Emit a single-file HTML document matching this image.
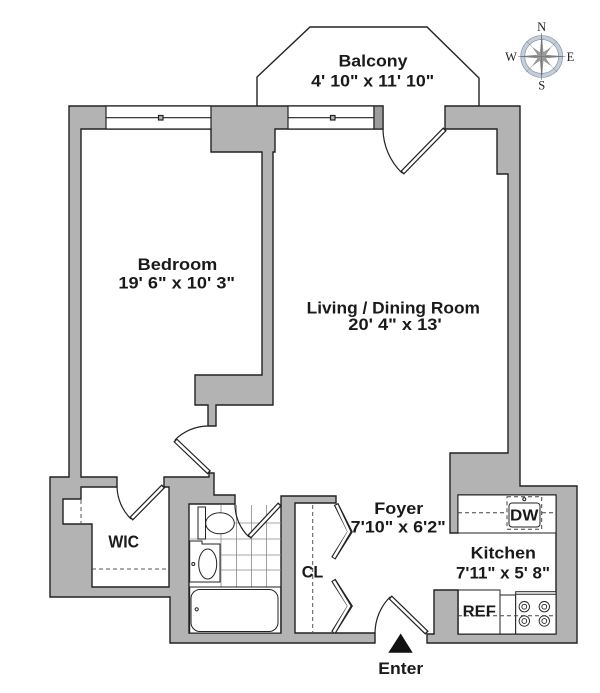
<!DOCTYPE html>
<html><head><meta charset="utf-8"><style>
html,body{margin:0;padding:0;background:#fff;}
svg{display:block;}
text{font-family:"Liberation Sans",Arial,sans-serif;font-weight:bold;fill:#1a1a1a;}
.c{font-family:"Liberation Serif","DejaVu Serif",serif;font-weight:normal;font-size:12.5px;fill:#222;}
</style></head><body>
<svg width="600" height="693" viewBox="0 0 600 693" xmlns="http://www.w3.org/2000/svg">
<rect width="600" height="693" fill="#fff"/>

<!-- balcony -->
<polyline points="257,106 257,77 310,27 427,27 479,78 479,106" fill="none" stroke="#222" stroke-width="1.4"/>

<!-- walls -->
<g fill="#b3b3b3" stroke="#222" stroke-width="1.4" stroke-linejoin="miter">
<polygon points="383,106 69,106 69,477 50,477 50,597 170,597 170,643 375,643 375,633 295,633 295,503 336,503 336,496 281,496 281,633 189,633 189,504 235,504 235,495 214,495 214,473 209,473 209,477 164,477 164,487 169,487 169,587 92,587 92,524 63,524 63,499 81,499 81,487 117,487 117,477 81,477 81,129 211,129 211,152 262,152 262,375 195,375 195,405 208,405 208,426 216,426 216,405 273,405 273,152 275,152 275,129 383,129"/>
<polygon points="445,106 520,106 520,486 577,486 577,643 427,643 427,634 434,634 434,590 458,590 458,634 556,634 556,495 458,495 458,533 450,533 450,453 508,453 508,174 497,174 497,129 445,129"/>
</g>

<!-- windows -->
<g stroke="#222" stroke-width="1.2">
<rect x="106" y="106" width="105" height="23" fill="#fff"/>
<line x1="106" y1="117.7" x2="211" y2="117.7"/>
<rect x="158.5" y="115.5" width="4.5" height="4.5" fill="#b3b3b3"/>
<rect x="288" y="106" width="86" height="23" fill="#fff"/>
<line x1="288" y1="117.7" x2="374" y2="117.7"/>
<rect x="330.5" y="115.5" width="4.5" height="4.5" fill="#b3b3b3"/>
<rect x="374" y="106" width="9" height="23" fill="#9c9c9c"/>
</g>

<!-- WIC dashed -->
<g stroke="#555" stroke-width="1" stroke-dasharray="4,3" fill="none">
<line x1="81" y1="500" x2="81" y2="523"/>
<line x1="92" y1="569" x2="169" y2="569"/>
<line x1="312.7" y1="505" x2="312.7" y2="632"/>
</g>

<!-- bath tiles -->
<g stroke="#8a8a8a" stroke-width="0.8">
<line x1="221" y1="505" x2="221" y2="587"/>
<line x1="236.5" y1="505" x2="236.5" y2="587"/>
<line x1="251.5" y1="505" x2="251.5" y2="587"/>
<line x1="266.5" y1="505" x2="266.5" y2="587"/>
<line x1="205" y1="523" x2="281" y2="523"/>
<line x1="189" y1="539" x2="281" y2="539"/>
<line x1="221" y1="555" x2="281" y2="555"/>
<line x1="221" y1="570" x2="281" y2="570"/>
</g>
<!-- bath fixtures -->
<g stroke="#222" stroke-width="1" fill="#fff">
<rect x="198" y="507" width="7.5" height="32"/>
<ellipse cx="220" cy="523.3" rx="14.3" ry="10.5"/>
<polygon points="189.7,541 202,541 202,544 220,544 220,582 189.7,582"/>
<ellipse cx="207.7" cy="564" rx="9" ry="15"/>
<circle cx="193.3" cy="564" r="1.5"/>
<rect x="189.7" y="587" width="91" height="46"/>
<rect x="191" y="589.5" width="87" height="42" rx="9"/>
<circle cx="196.7" cy="609.3" r="1.6"/>
</g>

<!-- kitchen -->
<g stroke="#222" stroke-width="1" fill="#fff">
<rect x="458" y="495" width="98" height="38"/>
<rect x="458.3" y="590" width="41.7" height="44"/>
<rect x="500" y="595" width="15.7" height="39"/>
<rect x="515.7" y="591.7" width="40.3" height="42.3"/>
<line x1="515.7" y1="594.3" x2="556" y2="594.3"/>
</g>
<g stroke="#444" stroke-width="1" stroke-dasharray="4,3" fill="none">
<line x1="458" y1="512.7" x2="507" y2="512.7"/>
<line x1="542" y1="512.7" x2="556" y2="512.7"/>
<rect x="507" y="496.7" width="34.7" height="32.6"/>
<line x1="458" y1="615.7" x2="556" y2="615.7"/>
</g>
<g stroke="#222" stroke-width="1" fill="#fff">
<rect x="509" y="503" width="31" height="24" rx="3"/>
<circle cx="524.3" cy="499.3" r="1.5"/>
</g>
<g stroke="#222" stroke-width="0.9" fill="#fff">
<circle cx="524.3" cy="606.7" r="5.2"/><circle cx="524.3" cy="606.7" r="2.4"/>
<circle cx="544.3" cy="606.7" r="5.2"/><circle cx="544.3" cy="606.7" r="2.4"/>
<circle cx="524.3" cy="621" r="5.2"/><circle cx="524.3" cy="621" r="2.4"/>
<circle cx="544.3" cy="621" r="5.2"/><circle cx="544.3" cy="621" r="2.4"/>
</g>

<!-- door arcs -->
<g fill="none" stroke="#222" stroke-width="1.2">
<path d="M383,129 A62,62 0 0 0 402,173"/>
<path d="M175,440 A47,47 0 0 1 208,426"/>
<path d="M131,519 A47,47 0 0 1 117,487"/>
<path d="M249,537 A45,45 0 0 1 235,504"/>
<path d="M390,597 A52,52 0 0 0 375,633"/>
</g>
<!-- door leaves -->
<g fill="none" stroke-linecap="butt" stroke-linejoin="miter">
<g stroke="#222" stroke-width="5">
<line x1="445" y1="129" x2="402" y2="173"/>
<line x1="209.3" y1="472.7" x2="175" y2="440"/>
<line x1="163.5" y1="486" x2="131" y2="519"/>
<line x1="280" y1="504" x2="249" y2="537"/>
<line x1="427" y1="633" x2="390" y2="597"/>
<polyline points="336,504 350,531.7 333.3,558.3"/>
<polyline points="333.3,580 350,606 333.3,632.7"/>
</g>
<g stroke="#fff" stroke-width="2.6">
<line x1="444" y1="130" x2="403" y2="172"/>
<line x1="208.3" y1="471.7" x2="176" y2="441"/>
<line x1="162.5" y1="487" x2="132" y2="518"/>
<line x1="279" y1="505" x2="250" y2="536"/>
<line x1="426" y1="632" x2="391" y2="598"/>
<polyline points="336.5,505 349,531.7 333.8,557.5"/>
<polyline points="333.8,581 349,606 333.8,632"/>
</g>
</g>

<!-- enter arrow -->
<polygon points="400.7,633.5 388.3,652.7 412.7,652.7" fill="#111"/>

<!-- compass -->
<g>
<circle cx="541.7" cy="56.5" r="19" fill="none" stroke="#c3cedc" stroke-width="4.2"/>
<circle cx="541.7" cy="56.5" r="21" fill="none" stroke="#7d8898" stroke-width="0.6"/>
<circle cx="541.7" cy="56.5" r="16.9" fill="none" stroke="#7d8898" stroke-width="0.6"/>
<line x1="526" y1="40.8" x2="557.4" y2="72.2" stroke="#888" stroke-width="0.5"/>
<line x1="557.4" y1="40.8" x2="526" y2="72.2" stroke="#888" stroke-width="0.5"/>
<polygon fill="#9a9a9a" stroke="#6d6d6d" stroke-width="0.4" points="541.7,35.5 543.2,52.8 550.2,48 545.4,55 562.7,56.5 545.4,58 550.2,65 543.2,60.2 541.7,77.5 540.2,60.2 533.2,65 538,58 520.7,56.5 538,55 533.2,48 540.2,52.8"/>
<line x1="541.7" y1="33" x2="541.7" y2="80" stroke="#666" stroke-width="0.6"/>
<line x1="518" y1="56.5" x2="565.5" y2="56.5" stroke="#666" stroke-width="0.6"/>
<text class="c" x="541.7" y="31" text-anchor="middle">N</text>
<text class="c" x="541.7" y="89.5" text-anchor="middle">S</text>
<text class="c" x="511" y="61" text-anchor="middle">W</text>
<text class="c" x="570.5" y="61" text-anchor="middle">E</text>
</g>

<!-- labels -->
<g text-anchor="middle" font-size="17">
<text x="373" y="66.7" textLength="69" lengthAdjust="spacingAndGlyphs">Balcony</text>
<text x="372.7" y="86.7" textLength="123" lengthAdjust="spacingAndGlyphs">4' 10" x 11' 10"</text>
<text x="177.5" y="270" textLength="79.6" lengthAdjust="spacingAndGlyphs">Bedroom</text>
<text x="176.7" y="288.3" textLength="116.7" lengthAdjust="spacingAndGlyphs">19' 6" x 10' 3"</text>
<text x="393.3" y="313.3" textLength="173.3" lengthAdjust="spacingAndGlyphs">Living / Dining Room</text>
<text x="395" y="330" textLength="93.4" lengthAdjust="spacingAndGlyphs">20' 4" x 13'</text>
<text x="398.8" y="514" textLength="49" lengthAdjust="spacingAndGlyphs">Foyer</text>
<text x="398.2" y="532.7" textLength="95" lengthAdjust="spacingAndGlyphs">7'10" x 6'2"</text>
<text x="503.3" y="558.3" textLength="65.3" lengthAdjust="spacingAndGlyphs">Kitchen</text>
<text x="503" y="578.3" textLength="94" lengthAdjust="spacingAndGlyphs">7'11" x 5' 8"</text>
<text x="312.5" y="577.3" textLength="21.6" lengthAdjust="spacingAndGlyphs">CL</text>
<text x="479.3" y="616.7" font-size="15.5" textLength="33.3" lengthAdjust="spacingAndGlyphs">REF</text>
<text x="524.2" y="520.7" font-size="16" textLength="28.3" lengthAdjust="spacingAndGlyphs">DW</text>
<text x="123.7" y="547.3" font-size="17.5" textLength="30.7" lengthAdjust="spacingAndGlyphs">WIC</text>
<text x="400.8" y="674" textLength="45" lengthAdjust="spacingAndGlyphs">Enter</text>
</g>
</svg>
</body></html>
